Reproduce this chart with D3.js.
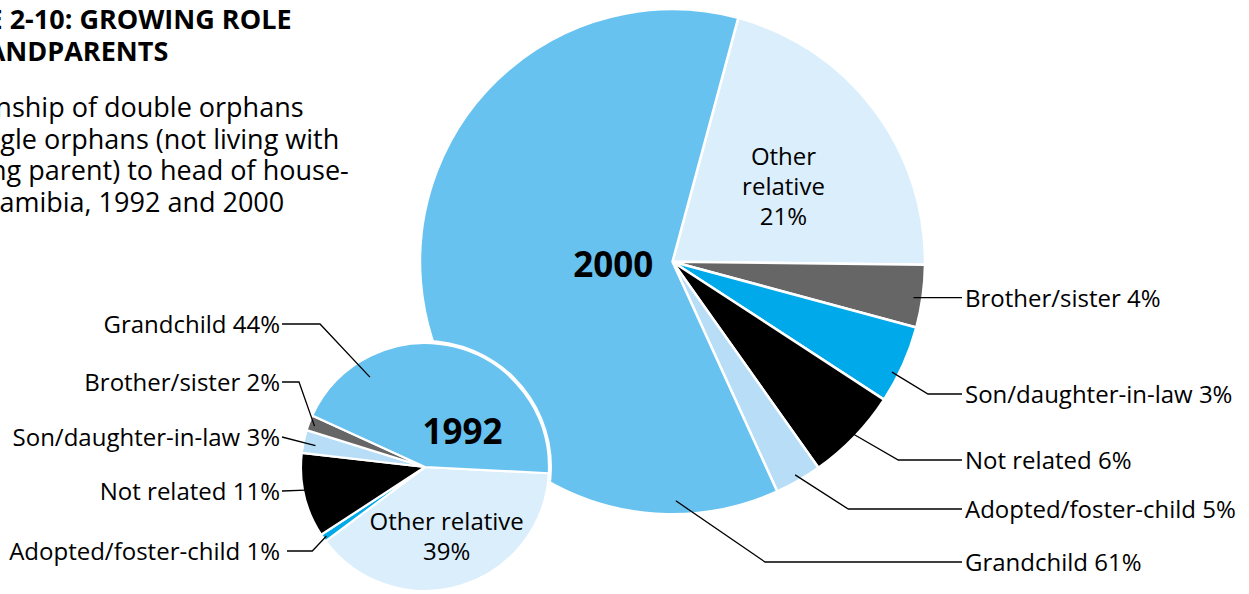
<!DOCTYPE html>
<html>
<head>
<meta charset="utf-8">
<script src="https://cdn.jsdelivr.net/npm/d3@7"></script>
<style>
  html, body { margin: 0; padding: 0; background: #ffffff; }
  svg { display: block; }
</style>
</head>
<body>
<script>
// ---------------- DATA ----------------
const categories = ["Grandchild", "Other relative", "Brother/sister", "Son/daughter-in-law", "Not related", "Adopted/foster-child"];
const values1992 = [44, 39, 2, 3, 11, 1];
const values2000 = [61, 21, 4, 3, 6, 5];
const categoryColors = ["#67c2ef", "#dbeefc", "#666666", "#b7def6", "#000000", "#00a9e9"];

// clockwise drawing order of the wedges in each pie
const wedgeOrder1992 = ["Other relative", "Adopted/foster-child", "Not related", "Son/daughter-in-law", "Brother/sister", "Grandchild"];
const wedgeOrder2000 = ["Other relative", "Brother/sister", "Adopted/foster-child", "Not related", "Son/daughter-in-law", "Grandchild"];

// outside labels, top to bottom
const labelOrder1992 = ["Grandchild", "Brother/sister", "Son/daughter-in-law", "Not related", "Adopted/foster-child"];
const labelOrder2000 = ["Brother/sister", "Son/daughter-in-law", "Not related", "Adopted/foster-child", "Grandchild"];

const titleLines = ["FIGURE 2-10: GROWING ROLE", "OF GRANDPARENTS"];
const subtitleLines = ["Relationship of double orphans", "and single orphans (not living with", "surviving parent) to head of house-", "hold, Namibia, 1992 and 2000"];

// ---------------- LAYOUT ----------------
const W = 1249, H = 594;
const FONT = "'Open Sans', 'Noto Sans', 'DejaVu Sans', sans-serif";
const pieBig = { cx: 672.5, cy: 261.7, r: 252.5, start: 15.1 };
const pieSmall = { cx: 425, cy: 467, r: 124, start: 92.9 };

// leader lines: label line y, start x of line, elbow x, anchor angle (deg) and radius fraction
const leaders1992 = [
  { y: 324,   x0: 282, ex: 320,   a: 328.5, f: 0.85 },
  { y: 382,   x0: 282, ex: 299,   a: 290.3, f: 0.95 },
  { y: 437,   x0: 282, ex: 282,   a: 281,   f: 0.90 },
  { y: 491,   x0: 282, ex: 282,   a: 259,   f: 0.98 },
  { y: 551,   x0: 287, ex: 312.3, a: 235,   f: 0.97 }
];
const leaders2000 = [
  { y: 298, ex: null,  a: 98.5,  f: 0.965 },
  { y: 394, ex: 928,   a: 116.7, f: 0.973 },
  { y: 460, ex: 898.3, a: 133.7, f: 0.985 },
  { y: 509, ex: 848.3, a: 150.1, f: 0.974 },
  { y: 562, ex: 765,   a: 179.2, f: 0.947 }
];

const rad = d => d * Math.PI / 180;
const colorScale = d3.scaleOrdinal().domain(categories).range(categoryColors);
const val1992 = new Map(categories.map((c, i) => [c, values1992[i]]));
const val2000 = new Map(categories.map((c, i) => [c, values2000[i]]));

const svg = d3.select("body").append("svg")
  .attr("width", W).attr("height", H)
  .attr("viewBox", `0 0 ${W} ${H}`);

function polar(p, angleDeg, rr) {
  return [p.cx + rr * Math.sin(rad(angleDeg)), p.cy - rr * Math.cos(rad(angleDeg))];
}

function drawPie(p, order, valMap, strokeW) {
  const pie = d3.pie().sort(null).value(d => valMap.get(d))
    .startAngle(rad(p.start)).endAngle(rad(p.start) + 2 * Math.PI);
  const arc = d3.arc().innerRadius(0).outerRadius(p.r);
  const g = svg.append("g").attr("transform", `translate(${p.cx},${p.cy})`);
  g.selectAll("path").data(pie(order)).join("path")
    .attr("d", arc)
    .attr("fill", d => colorScale(d.data))
    .attr("stroke", "#ffffff")
    .attr("stroke-width", strokeW)
    .attr("stroke-linejoin", "round");
  return g;
}

// big 2000 pie
drawPie(pieBig, wedgeOrder2000, val2000, 2.5);

// white rim behind the small pie
svg.append("circle").attr("cx", pieSmall.cx).attr("cy", pieSmall.cy)
  .attr("r", pieSmall.r + 3).attr("fill", "#ffffff");
drawPie(pieSmall, wedgeOrder1992, val1992, 2.2);

// ---------------- TEXT ----------------
const title = svg.append("g");
titleLines.forEach((t, i) => {
  title.append("text").attr("x", -94).attr("y", 29.3 + i * 31.4)
    .attr("font-family", FONT).attr("font-weight", 700).attr("font-size", 27)
    .attr("fill", "#000").text(t);
});
subtitleLines.forEach((t, i) => {
  title.append("text").attr("x", -91).attr("y", 117.3 + i * 31.5)
    .attr("font-family", FONT).attr("font-size", 27)
    .attr("fill", "#000").text(t);
});

const line = d3.line();
const LBL = 24;

// 1992 labels, left side
labelOrder1992.forEach((c, i) => {
  const L = leaders1992[i];
  svg.append("text").attr("x", 280).attr("y", L.y + 8.5)
    .attr("text-anchor", "end").attr("font-family", FONT).attr("font-size", LBL)
    .attr("fill", "#000").text(`${c} ${val1992.get(c)}%`);
  const anchor = polar(pieSmall, L.a, pieSmall.r * L.f);
  svg.append("path").attr("d", line([[L.x0, L.y], [L.ex, L.y], anchor]))
    .attr("fill", "none").attr("stroke", "#000").attr("stroke-width", 1.3);
});

// 2000 labels, right side
labelOrder2000.forEach((c, i) => {
  const L = leaders2000[i];
  svg.append("text").attr("x", 965).attr("y", L.y + 8.5)
    .attr("font-family", FONT).attr("font-size", LBL)
    .attr("fill", "#000").text(`${c} ${val2000.get(c)}%`);
  const anchor = polar(pieBig, L.a, pieBig.r * L.f);
  const pts = L.ex === null ? [anchor, [962, anchor[1]]] : [anchor, [L.ex, L.y], [962, L.y]];
  svg.append("path").attr("d", line(pts))
    .attr("fill", "none").attr("stroke", "#000").attr("stroke-width", 1.3);
});

// inner labels
const inner1992 = svg.append("text").attr("text-anchor", "middle")
  .attr("font-family", FONT).attr("font-size", LBL).attr("fill", "#000");
inner1992.append("tspan").attr("x", 446.7).attr("y", 530).text("Other relative");
inner1992.append("tspan").attr("x", 446.7).attr("y", 560).text(`${val1992.get("Other relative")}%`);

const inner2000 = svg.append("text").attr("text-anchor", "middle")
  .attr("font-family", FONT).attr("font-size", LBL).attr("fill", "#000");
inner2000.append("tspan").attr("x", 783.5).attr("y", 165).text("Other");
inner2000.append("tspan").attr("x", 783.5).attr("y", 195).text("relative");
inner2000.append("tspan").attr("x", 783.5).attr("y", 224.5).text(`${val2000.get("Other relative")}%`);

svg.append("text").attr("x", 462.5).attr("y", 444).attr("text-anchor", "middle")
  .attr("font-family", FONT).attr("font-weight", 700).attr("font-size", 35)
  .attr("fill", "#000").text("1992");
svg.append("text").attr("x", 613.3).attr("y", 276.7).attr("text-anchor", "middle")
  .attr("font-family", FONT).attr("font-weight", 700).attr("font-size", 35)
  .attr("fill", "#000").text("2000");
</script>
</body>
</html>
